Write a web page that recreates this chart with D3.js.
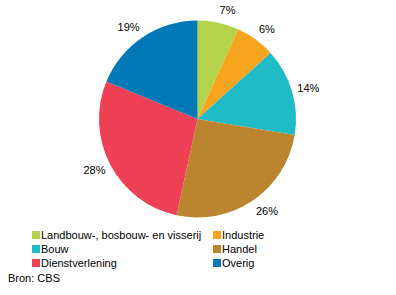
<!DOCTYPE html>
<html><head><meta charset="utf-8">
<script src="https://cdn.jsdelivr.net/npm/d3@7"></script>
<style>body{margin:0;background:#fff}svg{display:block}text{font-family:"Liberation Sans",Arial,sans-serif;font-size:11px;fill:#000}</style>
</head><body>
<svg id="c" width="396" height="295"></svg>
<script>
const categories = ["Landbouw-, bosbouw- en visserij","Industrie","Bouw","Handel","Dienstverlening","Overig"];
const values = [6.8, 6.5, 14.3, 25.8, 27.8, 18.8];
const labels = ["7%","6%","14%","26%","28%","19%"];
const colors = ["#b3d44a","#f7a51e","#1fbbc6","#bb8530","#ef4156","#0079b6"];

const svg = d3.select("#c");
const cx = 197.5, cy = 119, r = 98.5;
const pie = d3.pie().sort(null).value(d => d.v);
const data = categories.map((c,i)=>({c, v:values[i], l:labels[i], col:colors[i]}));
const arcs = pie(data);
const arc = d3.arc().innerRadius(0).outerRadius(r);
const g = svg.append("g").attr("transform", `translate(${cx},${cy})`);
g.selectAll("path").data(arcs).join("path").attr("d", arc).attr("fill", d=>d.data.col);
const lx = 104, ly = 111;
g.selectAll("text.l").data(arcs).join("text").attr("class","l")
  .attr("x", d=>{const a=(d.startAngle+d.endAngle)/2; return lx*Math.sin(a);})
  .attr("y", d=>{const a=(d.startAngle+d.endAngle)/2; return -ly*Math.cos(a);})
  .attr("text-anchor", d=>{const a=(d.startAngle+d.endAngle)/2; return Math.sin(a)>=0?"start":"end";})
  .attr("dy","0.35em").text(d=>d.data.l);

// legend
const lg = svg.append("g");
categories.forEach((name,k)=>{
  const col = k%2, row = Math.floor(k/2);
  const x = col===0 ? 32 : 213, y = 235 + row*14;
  lg.append("rect").attr("x",x).attr("y",y-4).attr("width",8).attr("height",8).attr("fill",colors[k]);
  lg.append("text").attr("x",x+9).attr("y",y).attr("dy","0.35em").text(name);
});
svg.append("text").attr("x",8).attr("y",278).attr("dy","0.35em").text("Bron: CBS");
</script>
</body></html>
